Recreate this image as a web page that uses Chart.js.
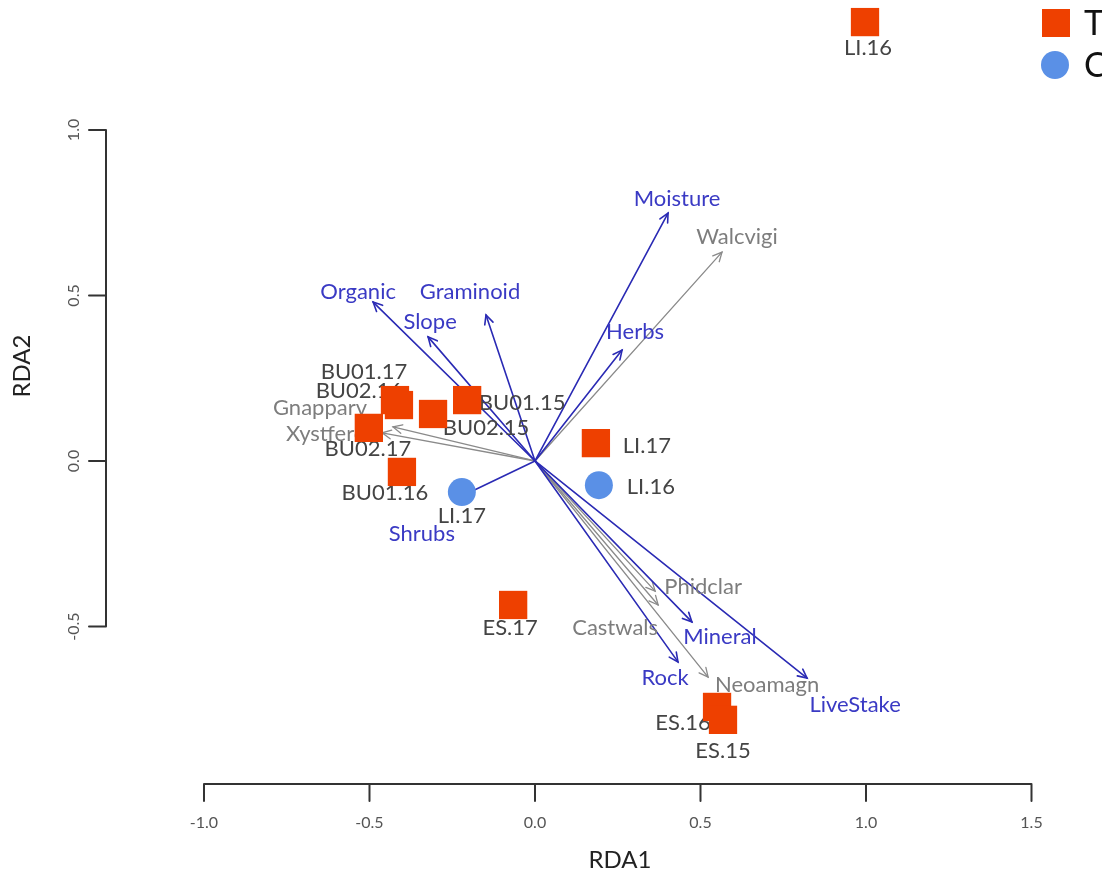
<!DOCTYPE html>
<html>
<head>
<meta charset="utf-8">
<script src="https://cdn.jsdelivr.net/npm/chart.js@4.4.0/dist/chart.umd.min.js"></script>
<style>
  body { margin: 0; background: #fff; }
  #wrap { width: 1102px; height: 876px; position: relative; }
</style>
</head>
<body>
<div id="wrap"><canvas id="rdaChart"></canvas></div>
<script>
// site scores, treatment plots (squares)
const treatNames = ["LI.16", "BU01.17", "BU02.16", "BU01.15", "BU02.15", "BU02.17", "BU01.16", "LI.17", "ES.17", "ES.16", "ES.15"];
const treatX = [0.997, -0.423, -0.411, -0.205, -0.308, -0.502, -0.402, 0.184, -0.066, 0.550, 0.568];
const treatY = [1.326, 0.184, 0.169, 0.184, 0.142, 0.100, -0.033, 0.054, -0.435, -0.743, -0.782];

// site scores, control plots (circles)
const ctrlNames = ["LI.17", "LI.16"];
const ctrlX = [-0.221, 0.193];
const ctrlY = [-0.094, -0.073];

// environmental vectors (blue)
const envNames = ["Moisture", "Organic", "Graminoid", "Slope", "Herbs", "Shrubs", "Mineral", "Rock", "LiveStake"];
const envX = [0.402, -0.489, -0.148, -0.323, 0.263, -0.227, 0.474, 0.432, 0.822];
const envY = [0.749, 0.480, 0.441, 0.375, 0.335, -0.109, -0.486, -0.607, -0.656];

// species vectors (grey)
const sppNames = ["Walcvigi", "Gnapparv", "Xystferc", "Phidclar", "Castwals", "Neoamagn"];
const sppX = [0.565, -0.429, -0.462, 0.363, 0.372, 0.523];
const sppY = [0.631, 0.103, 0.085, -0.393, -0.435, -0.653];

const xTicks = [-1.0, -0.5, 0.0, 0.5, 1.0, 1.5];
const yTicks = [-0.5, 0.0, 0.5, 1.0];
const legendNames = ["Treatment", "Control"];

// label nudges in px (layout only)
const treatNudge = [[3, 26], [-31, -28], [-40, -14], [55, 3], [53, 14], [-1, 21], [-17, 21], [51, 3], [-3, 23], [-34, 16], [0, 31]];
const ctrlNudge = [[0, 24], [52, 2]];
const envNudge = [[9, -14], [-15, -10], [-16, -23], [2, -15], [13, -18], [-38, 37], [28, 15], [-13, 16], [48, 27]];
const sppNudge = [[15, -15], [-73, -19], [-57, 1], [48, -4], [-43, 23], [59, 8]];

const RED = "#ee4000";
const BLUE = "#5a90e6";
const ENV_LINE = "#2a2ab4";
const ENV_TEXT = "#3a3ac4";
const SPP_LINE = "#8a8a8a";
const SPP_TEXT = "#7d7d7d";
const FONT = "Lato, 'DejaVu Sans', sans-serif";

function drawArrow(ctx, x0, y0, x1, y1, col, lw) {
  ctx.strokeStyle = col;
  ctx.lineWidth = lw;
  ctx.beginPath();
  ctx.moveTo(x0, y0);
  ctx.lineTo(x1, y1);
  ctx.stroke();
  var a = Math.atan2(y1 - y0, x1 - x0), len = 10, sp = Math.PI / 7;
  ctx.beginPath();
  ctx.moveTo(x1 - len * Math.cos(a - sp), y1 - len * Math.sin(a - sp));
  ctx.lineTo(x1, y1);
  ctx.lineTo(x1 - len * Math.cos(a + sp), y1 - len * Math.sin(a + sp));
  ctx.stroke();
}

const biplotPlugin = {
  id: "biplot",
  beforeDatasetsDraw(chart) {
    const ctx = chart.ctx, xs = chart.scales.x, ys = chart.scales.y;
    ctx.save();
    ctx.lineCap = "round";

    // R style detached axes
    const axisRow = 784, axisCol = 106;
    ctx.strokeStyle = "#333";
    ctx.lineWidth = 2;
    ctx.beginPath();
    ctx.moveTo(xs.getPixelForValue(xTicks[0]), axisRow);
    ctx.lineTo(xs.getPixelForValue(xTicks[xTicks.length - 1]), axisRow);
    xTicks.forEach(t => {
      ctx.moveTo(xs.getPixelForValue(t), axisRow);
      ctx.lineTo(xs.getPixelForValue(t), axisRow + 17);
    });
    ctx.moveTo(axisCol, ys.getPixelForValue(yTicks[0]));
    ctx.lineTo(axisCol, ys.getPixelForValue(yTicks[yTicks.length - 1]));
    yTicks.forEach(t => {
      ctx.moveTo(axisCol, ys.getPixelForValue(t));
      ctx.lineTo(axisCol - 17, ys.getPixelForValue(t));
    });
    ctx.stroke();

    ctx.fillStyle = "#555";
    ctx.font = "16px " + FONT;
    ctx.textAlign = "center";
    ctx.textBaseline = "middle";
    xTicks.forEach(t => ctx.fillText(t.toFixed(1), xs.getPixelForValue(t), axisRow + 39));
    yTicks.forEach(t => {
      ctx.save();
      ctx.translate(axisCol - 32, ys.getPixelForValue(t));
      ctx.rotate(-Math.PI / 2);
      ctx.fillText(t.toFixed(1), 0, 0);
      ctx.restore();
    });

    ctx.fillStyle = "#222";
    ctx.font = "24px " + FONT;
    ctx.fillText("RDA1", 620, 860);
    ctx.save();
    ctx.translate(22, 366);
    ctx.rotate(-Math.PI / 2);
    ctx.fillText("RDA2", 0, 0);
    ctx.restore();

    // vectors
    const ox = xs.getPixelForValue(0), oy = ys.getPixelForValue(0);
    sppNames.forEach((n, i) => {
      drawArrow(ctx, ox, oy, xs.getPixelForValue(sppX[i]), ys.getPixelForValue(sppY[i]), SPP_LINE, 1.3);
    });
    envNames.forEach((n, i) => {
      drawArrow(ctx, ox, oy, xs.getPixelForValue(envX[i]), ys.getPixelForValue(envY[i]), ENV_LINE, 1.6);
    });

    ctx.font = "22px " + FONT;
    ctx.fillStyle = SPP_TEXT;
    sppNames.forEach((n, i) => {
      ctx.fillText(n, xs.getPixelForValue(sppX[i]) + sppNudge[i][0], ys.getPixelForValue(sppY[i]) + sppNudge[i][1]);
    });
    ctx.fillStyle = ENV_TEXT;
    envNames.forEach((n, i) => {
      ctx.fillText(n, xs.getPixelForValue(envX[i]) + envNudge[i][0], ys.getPixelForValue(envY[i]) + envNudge[i][1]);
    });

    // site labels
    ctx.fillStyle = "#444";
    treatNames.forEach((n, i) => {
      ctx.fillText(n, xs.getPixelForValue(treatX[i]) + treatNudge[i][0], ys.getPixelForValue(treatY[i]) + treatNudge[i][1]);
    });
    ctrlNames.forEach((n, i) => {
      ctx.fillText(n, xs.getPixelForValue(ctrlX[i]) + ctrlNudge[i][0], ys.getPixelForValue(ctrlY[i]) + ctrlNudge[i][1]);
    });
    ctx.restore();
  },
  afterDraw(chart) {
    // legend, cut off at the right edge like the original
    const ctx = chart.ctx;
    ctx.save();
    ctx.fillStyle = RED;
    ctx.fillRect(1042, 9, 28, 28);
    ctx.fillStyle = BLUE;
    ctx.beginPath();
    ctx.arc(1055, 65, 14, 0, Math.PI * 2);
    ctx.fill();
    ctx.fillStyle = "#111";
    ctx.font = "34px " + FONT;
    ctx.textAlign = "left";
    ctx.textBaseline = "middle";
    ctx.fillText(legendNames[0], 1084, 24);
    ctx.fillText(legendNames[1], 1084, 66);
    ctx.restore();
  }
};

new Chart(document.getElementById("rdaChart"), {
  type: "scatter",
  data: {
    datasets: [
      {
        label: legendNames[0],
        data: treatX.map((x, i) => ({ x: x, y: treatY[i] })),
        pointStyle: "rect",
        pointRadius: 20,
        backgroundColor: RED,
        borderWidth: 0
      },
      {
        label: legendNames[1],
        data: ctrlX.map((x, i) => ({ x: x, y: ctrlY[i] })),
        pointStyle: "circle",
        pointRadius: 14,
        backgroundColor: BLUE,
        borderWidth: 0
      }
    ]
  },
  options: {
    responsive: true,
    maintainAspectRatio: false,
    animation: false,
    events: [],
    layout: { padding: 0, autoPadding: false },
    plugins: { legend: { display: false }, tooltip: { enabled: false } },
    scales: {
      x: { type: "linear", min: -1.6163, max: 1.7130, display: false },
      y: { type: "linear", min: -1.2538, max: 1.3927, display: false }
    }
  },
  plugins: [biplotPlugin]
});
</script>
</body>
</html>
